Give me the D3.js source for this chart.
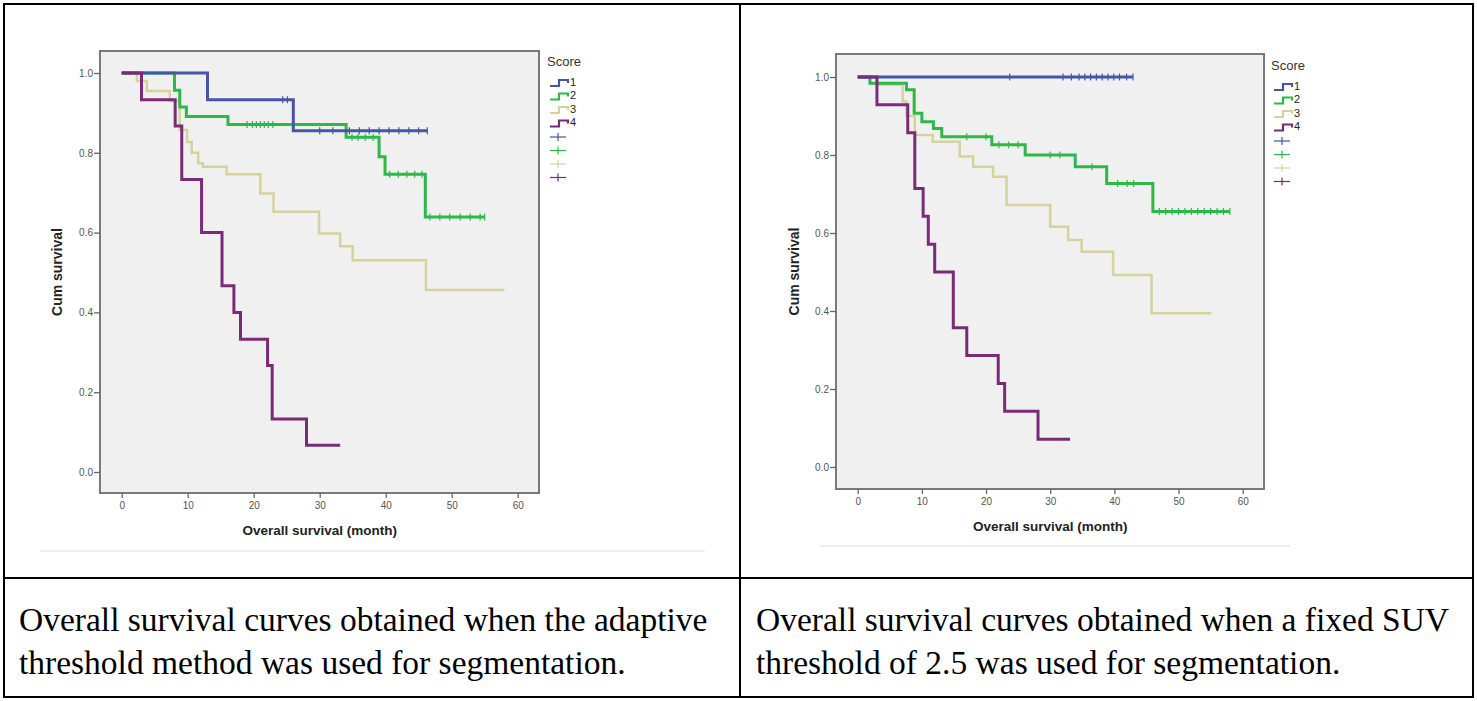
<!DOCTYPE html>
<html>
<head>
<meta charset="utf-8">
<script src="https://cdn.jsdelivr.net/npm/d3@7"></script>
<style>
  body { margin: 0; background: #fff; }
  svg { display: block; }
</style>
</head>
<body>
<script>
// axis ticks
var monthTicks = [0, 10, 20, 30, 40, 50, 60];
var survTicks = [0, 0.2, 0.4, 0.6, 0.8, 1.0];
var scores = ["1", "2", "3", "4"];
var scoreColors = ["#4356a8", "#2db84a", "#d6d29c", "#7a2b78"];

// adaptive threshold (left) -- [month, cum survival] at each event
var adapt1 = [[0, 1], [13, 0.933], [26, 0.855]];
var adapt2 = [[0, 1], [8, 0.957], [8.8, 0.915], [9.8, 0.891], [16.1, 0.871], [34, 0.839], [39, 0.79], [39.9, 0.746], [46, 0.639]];
var adapt3 = [[0, 1], [2.3, 0.98], [3.8, 0.955], [7.3, 0.93], [8.8, 0.857], [9.9, 0.827], [10.6, 0.80], [11.6, 0.774], [12.3, 0.765], [15.9, 0.746], [21, 0.698], [23, 0.652], [29.9, 0.598], [33.1, 0.566], [35, 0.531], [46.1, 0.456]];
var adapt4 = [[0, 1], [3, 0.933], [8.1, 0.867], [9.1, 0.733], [12.1, 0.6], [15.2, 0.467], [17, 0.4], [18, 0.333], [22.1, 0.267], [22.8, 0.133], [28, 0.067]];
var adaptEnd = [46.3, 55, 58, 33.1];
var adaptCens1 = [24.4, 25.1, 30, 32, 34.5, 36, 37.5, 39, 40.5, 42, 43.5, 45, 46.3];
var adaptCens2 = [19, 19.8, 20.4, 21, 21.6, 22.2, 22.9, 34.9, 35.8, 36.9, 38.1, 40.6, 41.9, 43.2, 44.4, 45.5, 46.7, 48.2, 49.7, 51.3, 52.8, 54.3, 55];
var adaptCens3 = [];
var adaptCens4 = [];

// fixed SUV 2.5 (right)
var fixed1 = [[0, 1]];
var fixed2 = [[0, 1], [1.9, 0.984], [7.6, 0.967], [8.8, 0.907], [10, 0.885], [11.8, 0.868], [13.1, 0.847], [20.9, 0.826], [26.1, 0.80], [33.9, 0.77], [38.8, 0.727], [46, 0.655]];
var fixed3 = [[0, 1], [3, 0.98], [7, 0.937], [7.6, 0.90], [8.9, 0.851], [11.7, 0.834], [15.9, 0.796], [18, 0.77], [21.1, 0.744], [23.2, 0.672], [30, 0.616], [32.8, 0.582], [34.9, 0.552], [39.8, 0.492], [45.8, 0.394]];
var fixed4 = [[0, 1], [3, 0.929], [7.8, 0.857], [8.9, 0.714], [10.2, 0.643], [11, 0.571], [12, 0.5], [14.9, 0.357], [17, 0.286], [21.9, 0.214], [22.9, 0.143], [28.1, 0.071]];
var fixedEnd = [42.9, 58, 55.1, 33.1];
var fixedCens1 = [23.7, 32, 33.3, 34.5, 35.4, 36.3, 37.2, 38.1, 39, 39.9, 40.8, 41.9, 42.9];
var fixedCens2 = [17, 20, 22, 23.5, 25, 30, 31.5, 36.5, 40.5, 42, 43, 47, 48, 49, 50, 51, 52, 53, 54, 55, 56, 57, 58];
var fixedCens3 = [];
var fixedCens4 = [];

var captions = [
  ["Overall survival curves obtained when the adaptive", "threshold method was used for segmentation."],
  ["Overall survival curves obtained when a fixed SUV", "threshold of 2.5 was used for segmentation."]
];

var W = 1477, H = 701;
var svg = d3.select("body").append("svg").attr("width", W).attr("height", H);

// table borders
var tbl = svg.append("g").attr("stroke", "#000").attr("stroke-width", 2);
tbl.append("rect").attr("x", 4).attr("y", 4).attr("width", 1469).attr("height", 693).attr("fill", "none");
tbl.append("line").attr("x1", 740).attr("x2", 740).attr("y1", 4).attr("y2", 697);
tbl.append("line").attr("x1", 4).attr("x2", 1473).attr("y1", 578).attr("y2", 578);

// captions
var capX = [19, 756];
captions.forEach(function(lines, i) {
  lines.forEach(function(t, j) {
    svg.append("text")
      .attr("x", capX[i]).attr("y", 631 + j * 43)
      .attr("font-family", "Liberation Serif, Times New Roman, serif")
      .attr("font-size", 33.5)
      .attr("fill", "#000")
      .text(t);
  });
});

var panels = [
  { box: [100, 51, 539, 493], xr: [121.7, 517.7], yr: [472, 73], steps: [adapt1, adapt2, adapt3, adapt4], ends: adaptEnd,
    cens: [adaptCens1, adaptCens2, adaptCens3, adaptCens4], ytitleX: 58, xtitleY: 531, legend: [547, 63], imgLine: [40, 705, 551] },
  { box: [836, 54, 1264, 489], xr: [857.7, 1242.7], yr: [467, 77], steps: [fixed1, fixed2, fixed3, fixed4], ends: fixedEnd,
    cens: [fixedCens1, fixedCens2, fixedCens3, fixedCens4], ytitleX: 795, xtitleY: 527, legend: [1271, 67], imgLine: [820, 1290, 546] }
];

panels.forEach(function(p) {
  var x = d3.scaleLinear().domain([0, 60]).range(p.xr);
  var y = d3.scaleLinear().domain([0, 1]).range(p.yr);
  var g = svg.append("g");

  // faint edge of the pasted image
  g.append("line").attr("x1", p.imgLine[0]).attr("x2", p.imgLine[1])
    .attr("y1", p.imgLine[2]).attr("y2", p.imgLine[2]).attr("stroke", "#eeeeee").attr("stroke-width", 2);

  g.append("rect")
    .attr("x", p.box[0]).attr("y", p.box[1])
    .attr("width", p.box[2] - p.box[0]).attr("height", p.box[3] - p.box[1])
    .attr("fill", "#f0f0f0").attr("stroke", "#7a7a7a").attr("stroke-width", 2);

  var yAxis = g.append("g")
    .attr("transform", "translate(" + p.box[0] + ",0)")
    .call(d3.axisLeft(y).tickValues(survTicks).tickFormat(d3.format(".1f")).tickSize(6).tickSizeOuter(0));
  var xAxis = g.append("g")
    .attr("transform", "translate(0," + p.box[3] + ")")
    .call(d3.axisBottom(x).tickValues(monthTicks).tickSize(5).tickSizeOuter(0));
  [xAxis, yAxis].forEach(function(a) {
    a.select(".domain").remove();
    a.selectAll(".tick line").attr("stroke", "#666").attr("stroke-width", 1.3);
    a.selectAll(".tick text").attr("fill", "#555").attr("font-size", 10)
      .attr("font-family", "Liberation Sans, Arial, sans-serif");
  });
  yAxis.selectAll(".tick text").attr("x", -7);
  xAxis.selectAll(".tick text").attr("y", 9);

  g.append("text")
    .attr("transform", "translate(" + p.ytitleX + "," + ((p.box[1] + p.box[3]) / 2) + ") rotate(-90)")
    .attr("text-anchor", "middle").attr("dominant-baseline", "middle")
    .attr("font-family", "Liberation Sans, Arial, sans-serif").attr("font-weight", "bold")
    .attr("font-size", 14).attr("fill", "#222").text("Cum survival");
  g.append("text")
    .attr("x", (p.xr[0] + p.xr[1]) / 2).attr("y", p.xtitleY)
    .attr("text-anchor", "middle").attr("dominant-baseline", "middle")
    .attr("font-family", "Liberation Sans, Arial, sans-serif").attr("font-weight", "bold")
    .attr("font-size", 13.5).attr("fill", "#222").text("Overall survival (month)");

  var line = d3.line().x(function(d) { return x(d[0]); }).y(function(d) { return y(d[1]); })
    .curve(d3.curveStepAfter);

  // draw light series first so darker ones sit on top
  [2, 1, 0, 3].forEach(function(i) {
    var pts = p.steps[i].slice();
    var last = pts[pts.length - 1][1];
    pts.push([p.ends[i], last]);
    g.append("path").datum(pts)
      .attr("d", line).attr("fill", "none")
      .attr("stroke", scoreColors[i]).attr("stroke-width", i == 2 ? 2.5 : 3);

    // censor marks
    function survAt(t) {
      var s = 1;
      p.steps[i].forEach(function(d) { if (d[0] <= t) s = d[1]; });
      return s;
    }
    g.selectAll(null).data(p.cens[i]).enter().append("line")
      .attr("x1", function(d) { return x(d); }).attr("x2", function(d) { return x(d); })
      .attr("y1", function(d) { return y(survAt(d)) - 3.5; })
      .attr("y2", function(d) { return y(survAt(d)) + 3.5; })
      .attr("stroke", scoreColors[i]).attr("stroke-width", 1.2);
  });

  // legend
  var lg = g.append("g").attr("transform", "translate(" + p.legend[0] + "," + p.legend[1] + ")");
  lg.append("text").attr("x", 0).attr("y", 0).attr("dominant-baseline", "middle")
    .attr("font-family", "Liberation Sans, Arial, sans-serif").attr("font-size", 13)
    .attr("fill", "#333").text("Score");
  scores.forEach(function(s, i) {
    var yy = 20 + i * 13.5;
    lg.append("path")
      .attr("d", "M3," + (yy + 3) + "H12V" + (yy - 3) + "H21V" + yy)
      .attr("fill", "none").attr("stroke", scoreColors[i]).attr("stroke-width", 2.2);
    lg.append("text").attr("x", 23).attr("y", yy).attr("dominant-baseline", "middle")
      .attr("font-family", "Liberation Sans, Arial, sans-serif").attr("font-size", 11)
      .attr("fill", "#222").text(s);
    var cy = 20 + (i + 4) * 13.5;
    lg.append("line").attr("x1", 3).attr("x2", 19).attr("y1", cy).attr("y2", cy)
      .attr("stroke", scoreColors[i]).attr("stroke-width", 1.2);
    lg.append("line").attr("x1", 11).attr("x2", 11).attr("y1", cy - 4).attr("y2", cy + 4)
      .attr("stroke", scoreColors[i]).attr("stroke-width", 1.2);
  });
});
</script>
</body>
</html>
